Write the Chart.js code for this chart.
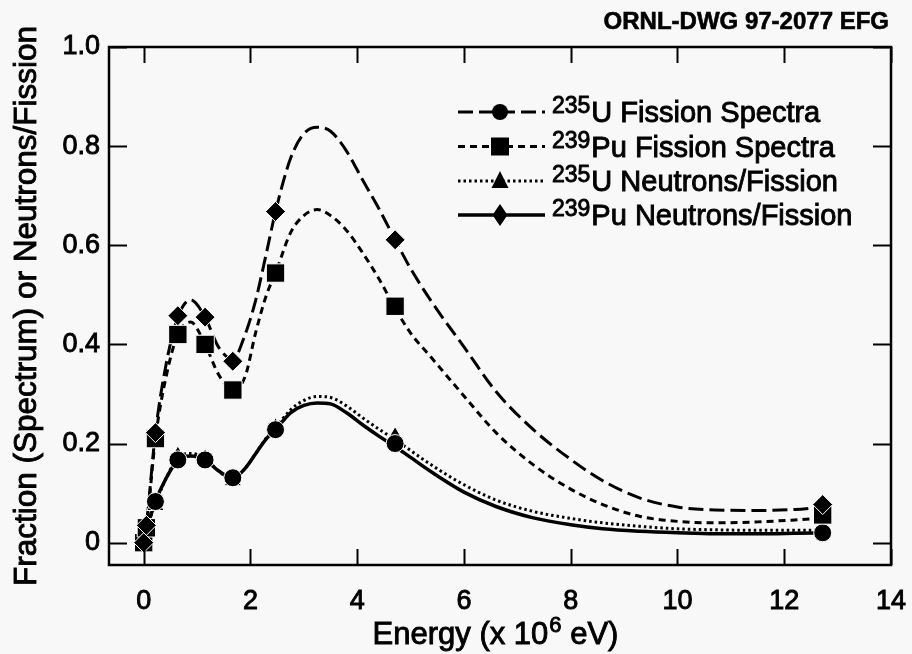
<!DOCTYPE html>
<html>
<head>
<meta charset="utf-8">
<title>Fission spectra</title>
<script src="https://cdn.jsdelivr.net/npm/chart.js@4.4.0/dist/chart.umd.min.js"></script>
<style>
  html, body { margin: 0; padding: 0; background: #f8f8f8; }
  .chart { position: relative; width: 912px; height: 654px; }
</style>
</head>
<body>
<div class="chart"><canvas id="fissionChart" width="912" height="654"></canvas></div>
<script>
const FONT = "'Liberation Sans', Arial, Helvetica, sans-serif";

const xTicks = [0, 2, 4, 6, 8, 10, 12, 14];
const yTicks = [0, 0.2, 0.4, 0.6, 0.8, 1.0];
const yTickLabels = ['0', '0.2', '0.4', '0.6', '0.8', '1.0'];

// energies where the symbols sit (x 10^6 eV)
const markerEnergy = [0, 0.05, 0.22, 0.64, 1.15, 1.67, 2.47, 4.71, 12.72];
const diamondVals  = [0.0, 0.035, 0.222, 0.458, 0.455, 0.366, 0.668, 0.611, 0.077];
const squareVals   = [0.0, 0.030, 0.210, 0.420, 0.400, 0.308, 0.544, 0.477, 0.056];
const circleVals   = [0.0, 0.025, 0.083, 0.167, 0.167, 0.131, 0.228, 0.200, 0.020];
const triangleVals = [0.0, 0.025, 0.075, 0.175, 0.170, 0.125, 0.232, 0.214, 0.022];

// smooth curves
const curveEnergy = [0, 0.05, 0.22, 0.42, 0.64, 0.88, 1.15, 1.4, 1.67, 1.9, 2.1, 2.3, 2.47,
  2.75, 3.0, 3.25, 3.5, 3.8, 4.1, 4.42, 4.71, 5.0, 5.4, 6.0, 6.6, 7.3, 8.0, 8.6, 9.3,
  10.0, 10.7, 11.5, 12.2, 12.72];
const longDashCurve = [0, 0.035, 0.222, 0.36, 0.455, 0.49, 0.455, 0.395, 0.37, 0.42, 0.49, 0.585, 0.668,
  0.775, 0.825, 0.838, 0.83, 0.79, 0.732, 0.671, 0.611, 0.553, 0.485, 0.395, 0.305, 0.228, 0.168, 0.125, 0.09,
  0.072, 0.066, 0.065, 0.067, 0.072];
const shortDashCurve = [0, 0.03, 0.21, 0.335, 0.42, 0.445, 0.40, 0.34, 0.308, 0.335, 0.425, 0.50, 0.544,
  0.625, 0.66, 0.672, 0.66, 0.63, 0.585, 0.53, 0.473, 0.423, 0.372, 0.296, 0.222, 0.157, 0.108, 0.077, 0.053,
  0.043, 0.040, 0.042, 0.046, 0.05];
const dottedCurve = [0, 0.025, 0.078, 0.13, 0.172, 0.18, 0.17, 0.145, 0.127, 0.15, 0.18, 0.212, 0.232,
  0.268, 0.287, 0.295, 0.293, 0.276, 0.252, 0.228, 0.208, 0.186, 0.156, 0.117, 0.086, 0.063, 0.049, 0.040, 0.033,
  0.028, 0.026, 0.025, 0.025, 0.025];
const solidCurve = [0, 0.025, 0.083, 0.13, 0.167, 0.175, 0.167, 0.145, 0.13, 0.15, 0.18, 0.21, 0.228,
  0.262, 0.277, 0.282, 0.28, 0.262, 0.238, 0.214, 0.194, 0.172, 0.142, 0.102, 0.073, 0.050, 0.036, 0.028, 0.023,
  0.020, 0.018, 0.018, 0.019, 0.020];

const legendIsotopes = ['235', '239', '235', '239'];
const legendTexts = ['U Fission Spectra', 'Pu Fission Spectra', 'U Neutrons/Fission', 'Pu Neutrons/Fission'];

const LONG_DASH = [15, 6];
const SHORT_DASH = [7, 5];
const DOTS = [2.5, 3];

const toPoints = (xs, ys) => xs.map((x, i) => ({ x, y: ys[i] }));

function markerSet(label, vals, style, radius) {
  return {
    label,
    data: toPoints(markerEnergy, vals),
    showLine: false,
    pointStyle: style,
    pointRadius: radius,
    pointHoverRadius: radius,
    pointBackgroundColor: '#000',
    pointBorderColor: '#fff',
    pointBorderWidth: 1
  };
}

function curveSet(label, vals, dash, width) {
  return {
    label,
    data: toPoints(curveEnergy, vals),
    showLine: true,
    borderColor: '#000',
    borderWidth: width,
    borderDash: dash,
    borderCapStyle: 'butt',
    pointRadius: 0,
    pointHoverRadius: 0,
    cubicInterpolationMode: 'monotone',
    fill: false
  };
}

// fill + thin stroke, the scanned original has heavy letters
function heavyText(ctx, txt, x, y) {
  ctx.fillText(txt, x, y);
  ctx.strokeText(txt, x, y);
}

// legend sample markers, drawn by hand
function drawMark(ctx, kind, x, y) {
  ctx.beginPath();
  if (kind === 'circle') {
    ctx.arc(x, y, 8, 0, Math.PI * 2);
  } else if (kind === 'square') {
    ctx.rect(x - 9, y - 9, 18, 18);
  } else if (kind === 'triangle') {
    ctx.moveTo(x, y - 10);
    ctx.lineTo(x + 8.5, y + 7);
    ctx.lineTo(x - 8.5, y + 7);
    ctx.closePath();
  } else {
    ctx.moveTo(x, y - 11);
    ctx.lineTo(x + 7.5, y);
    ctx.lineTo(x, y + 11);
    ctx.lineTo(x - 7.5, y);
    ctx.closePath();
  }
  ctx.fill();
}

const decorPlugin = {
  id: 'decor',
  afterDraw(chart) {
    const { ctx, chartArea: a, scales: { x, y } } = chart;
    ctx.save();
    ctx.strokeStyle = '#000';
    ctx.fillStyle = '#000';

    // frame
    ctx.lineWidth = 2.5;
    ctx.strokeRect(a.left, a.top, a.right - a.left, a.bottom - a.top);

    // inward ticks on all four sides
    ctx.lineWidth = 2;
    ctx.beginPath();
    xTicks.forEach(v => {
      const px = Math.round(x.getPixelForValue(v)) + 0.5;
      ctx.moveTo(px, a.bottom); ctx.lineTo(px, a.bottom - 16);
      ctx.moveTo(px, a.top); ctx.lineTo(px, a.top + 16);
    });
    yTicks.forEach(v => {
      const py = Math.round(y.getPixelForValue(v)) + 0.5;
      ctx.moveTo(a.left, py); ctx.lineTo(a.left + 18, py);
      ctx.moveTo(a.right, py); ctx.lineTo(a.right - 18, py);
    });
    ctx.stroke();

    // legend
    const rowY = [112, 146.5, 181, 215];
    const dashes = [LONG_DASH, SHORT_DASH, DOTS, []];
    const marks = ['circle', 'square', 'triangle', 'diamond'];
    rowY.forEach((ry, i) => {
      ctx.save();
      ctx.lineWidth = i === 3 ? 3.5 : 3;
      ctx.setLineDash(dashes[i]);
      ctx.beginPath();
      ctx.moveTo(458, ry);
      ctx.lineTo(545, ry);
      ctx.stroke();
      ctx.restore();
      drawMark(ctx, marks[i], 500, ry);

      ctx.textBaseline = 'alphabetic';
      ctx.textAlign = 'left';
      ctx.lineWidth = 0.9;
      ctx.font = '23px ' + FONT;
      heavyText(ctx, legendIsotopes[i], 552, ry + 1);
      const w = ctx.measureText(legendIsotopes[i]).width;
      ctx.font = '29px ' + FONT;
      heavyText(ctx, legendTexts[i], 552 + w + 1, ry + 10);
    });

    // x axis title with superscript
    const cx = (a.left + a.right) / 2 - 5;
    ctx.lineWidth = 0.9;
    ctx.font = '31px ' + FONT;
    const p1 = 'Energy (x 10', p3 = ' eV)';
    const w1 = ctx.measureText(p1).width, w3 = ctx.measureText(p3).width;
    ctx.font = '22px ' + FONT;
    const w2 = ctx.measureText('6').width;
    const sx = cx - (w1 + w2 + w3) / 2;
    ctx.font = '31px ' + FONT;
    heavyText(ctx, p1, sx, 644);
    ctx.font = '22px ' + FONT;
    heavyText(ctx, '6', sx + w1 + 1, 632);
    ctx.font = '31px ' + FONT;
    heavyText(ctx, p3, sx + w1 + w2 + 1, 644);

    // y axis title
    ctx.save();
    ctx.translate(36, (a.top + a.bottom) / 2);
    ctx.rotate(-Math.PI / 2);
    ctx.textAlign = 'center';
    ctx.font = '31.5px ' + FONT;
    heavyText(ctx, 'Fraction (Spectrum) or Neutrons/Fission', 0, 0);
    ctx.restore();

    // drawing number
    ctx.textAlign = 'right';
    ctx.lineWidth = 0.6;
    ctx.font = 'bold 24px ' + FONT;
    heavyText(ctx, 'ORNL-DWG 97-2077 EFG', 889, 29);
    ctx.restore();
  }
};

new Chart(document.getElementById('fissionChart').getContext('2d'), {
  type: 'scatter',
  data: {
    datasets: [
      markerSet('239Pu diamonds', diamondVals, 'rectRot', 10),
      markerSet('239Pu squares', squareVals, 'rect', 13),
      markerSet('235U circles', circleVals, 'circle', 9),
      markerSet('235U triangles', triangleVals, 'triangle', 10),
      curveSet('235U Fission Spectra', longDashCurve, LONG_DASH, 3),
      curveSet('239Pu Fission Spectra', shortDashCurve, SHORT_DASH, 3),
      curveSet('235U Neutrons/Fission', dottedCurve, DOTS, 3),
      curveSet('239Pu Neutrons/Fission', solidCurve, [], 3.5)
    ]
  },
  options: {
    responsive: false,
    animation: false,
    devicePixelRatio: 1,
    layout: { padding: { top: 47, right: 21, bottom: 0, left: 0 } },
    plugins: {
      legend: { display: false },
      tooltip: { enabled: false },
      title: { display: false }
    },
    scales: {
      x: {
        type: 'linear',
        min: -0.65,
        max: 14,
        afterBuildTicks: s => { s.ticks = xTicks.map(v => ({ value: v })); },
        afterFit: s => { s.height = 89; s.paddingLeft = 0; s.paddingRight = 0; },
        grid: { display: false, drawTicks: false },
        border: { display: false },
        ticks: {
          color: '#000',
          textStrokeColor: '#000',
          textStrokeWidth: 0.9,
          font: { family: FONT, size: 27 },
          padding: 20,
          maxRotation: 0,
          autoSkip: false
        }
      },
      y: {
        type: 'linear',
        min: -0.045,
        max: 1.0,
        afterBuildTicks: s => { s.ticks = yTicks.map(v => ({ value: v })); },
        afterFit: s => { s.width = 109; s.paddingTop = 0; s.paddingBottom = 0; },
        grid: { display: false, drawTicks: false },
        border: { display: false },
        ticks: {
          color: '#000',
          textStrokeColor: '#000',
          textStrokeWidth: 0.9,
          font: { family: FONT, size: 27 },
          padding: 9,
          callback: v => yTickLabels[yTicks.indexOf(v)]
        }
      }
    }
  },
  plugins: [decorPlugin]
});
</script>
</body>
</html>
